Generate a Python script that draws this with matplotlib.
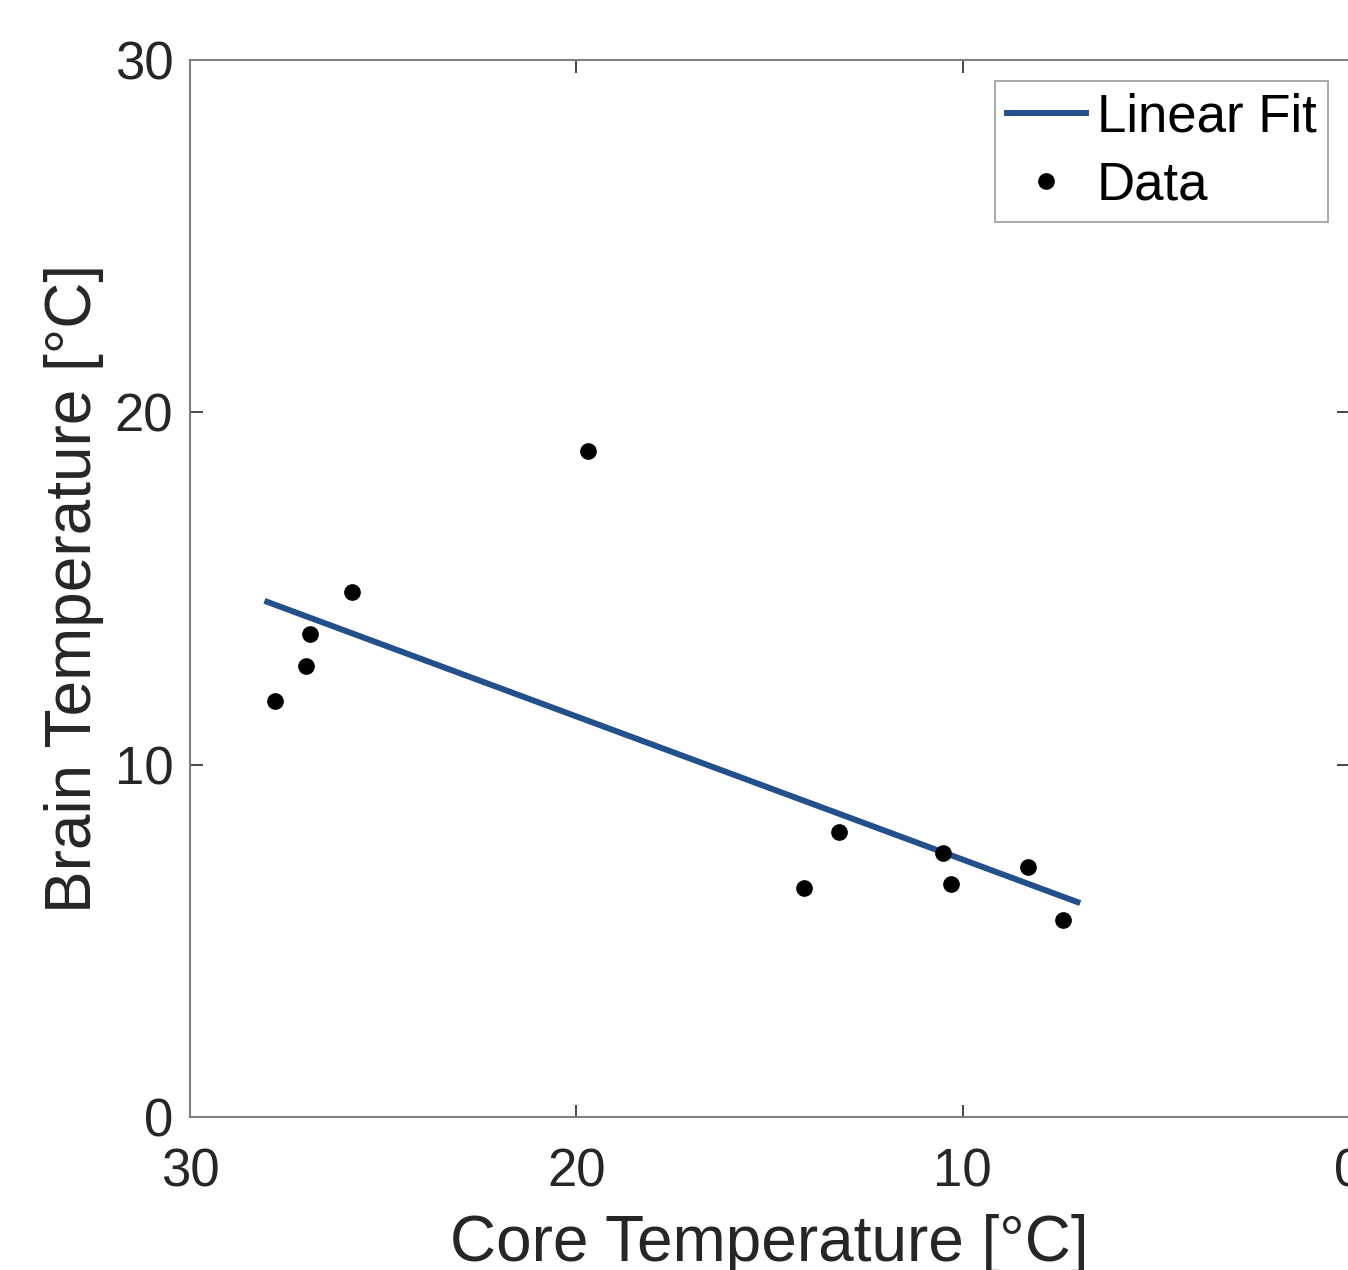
import matplotlib
matplotlib.use('Agg')
import matplotlib.pyplot as plt

plt.rcParams['font.family'] = ['Liberation Sans', 'DejaVu Sans']

# 데이터
core_temp = [27.8, 27.0, 26.9, 25.8, 19.7, 14.1, 13.2, 10.5, 10.3, 8.3, 7.4]
brain_temp = [11.8, 12.8, 13.7, 14.9, 18.9, 6.5, 8.1, 7.5, 6.6, 7.1, 5.6]
fit_x = [28.0, 7.03]
fit_y = [14.62, 6.10]

text_color = '#262626'
spine_color = '#808080'

fig = plt.figure(figsize=(13.48, 12.70), dpi=100)
ax = fig.add_axes([0.14095, 0.12047, 0.8598, 0.8323])

ax.plot(fit_x, fit_y, color='#22508c', linewidth=4.3, label='Linear Fit', zorder=2)
ax.plot(core_temp, brain_temp, 'o', color='black', markersize=11, label='Data', zorder=3)

ax.set_xlim(30, 0)
ax.set_ylim(0, 30)
ax.set_xticks([30, 20, 10, 0])
ax.set_yticks([0, 10, 20, 30])

for s in ax.spines.values():
    s.set_color(spine_color)
    s.set_linewidth(1.5)

ax.tick_params(direction='in', length=9, width=1.2, color=text_color,
               labelsize=38, labelcolor=text_color, top=True, right=True)
ax.tick_params(axis='x', pad=22)
ax.tick_params(axis='y', pad=12)

ax.set_xlabel('Core Temperature [°C]', fontsize=46, color=text_color, labelpad=12)
ax.set_ylabel('Brain Temperature [°C]', fontsize=46, color=text_color, labelpad=8)

leg = ax.legend(loc='upper right', fontsize=38, frameon=True, fancybox=False,
                edgecolor=spine_color, handlelength=1.5, handletextpad=0.2,
                borderaxespad=0.4, labelspacing=0.33, borderpad=0.22)
leg.get_frame().set_linewidth(1.2)

fig.savefig('out.png', dpi=100)
